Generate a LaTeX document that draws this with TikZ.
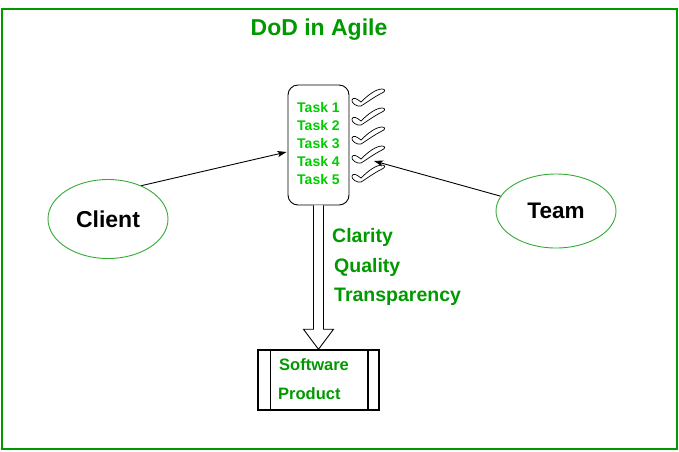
\documentclass[tikz,border=0pt]{standalone}
\usepackage{fontspec}
\setmainfont{Liberation Sans}
\usetikzlibrary{shapes.geometric,arrows.meta,calc}
\definecolor{dg}{HTML}{009900}
\definecolor{lg}{HTML}{00CC00}
\definecolor{eg}{HTML}{33AA33}
\tikzset{
  lbl/.style={inner sep=0pt, font=\bfseries\fontsize{#1}{#1}\selectfont},
  arr/.style={line width=0.9pt, -{Stealth[length=9pt,width=6pt,inset=2pt]}},
  chk/.pic={
    \draw[line width=0.7pt, fill=white] (-8,-6) .. controls (-7,-9) and (-4,-8) .. (1,-4)
      .. controls (8,-11) and (16,-17) .. (22,-17)
      .. controls (26,-17) and (25,-14) .. (22,-13)
      .. controls (14,-9) and (6,-3) .. (1,0)
      .. controls (-3,1) and (-9,-3) .. (-8,-6) -- cycle;
    \coordinate (-tip) at (14,-2);
  }
}
\begin{document}
\begin{tikzpicture}[x=1pt,y=-1pt]
\useasboundingbox (0,0) rectangle (679,451);
\node[draw=dg, line width=2pt, minimum width=675pt, minimum height=440pt, inner sep=0pt] (frame) at (339.5,229) {};
\node[lbl=23, text=dg] (title) at (319,30) {DoD in Agile};

\node[draw, line width=0.9pt, rounded corners=10pt, minimum width=61pt, minimum height=120pt, fill=white] (tb) at (318.5,145) {};
\foreach \i in {1,...,5} {
  \node[lbl=14, text=lg] (t\i) at (318.5,{107+18*(\i-1)}) {Task \i};
  \pic (c\i) at (360,{106+19*(\i-1)}) {chk};
}

\node[ellipse, draw=eg, line width=0.9pt, minimum width=120pt, minimum height=79pt, inner sep=0pt, font=\bfseries\fontsize{23}{23}\selectfont] (client) at (108,219) {Client};
\node[ellipse, draw=eg, line width=0.9pt, minimum width=120pt, minimum height=74pt, inner sep=0pt, font=\bfseries\fontsize{22.5}{22.5}\selectfont] (team) at (556,211) {Team};

\coordinate (tbin) at ($(tb.west)+(-1,7)$);
\draw[arr] (client.45) -- (tbin);
\draw[arr] (team.165) -- (c4-tip);

\node[draw, line width=1.5pt, minimum width=121pt, minimum height=60pt, inner sep=0pt] (sp) at (318.5,380) {};
\draw[line width=1.5pt] ($(sp.north west)+(13,0)$) -- ($(sp.south west)+(13,0)$);
\draw[line width=1.5pt] ($(sp.north east)+(-12,0)$) -- ($(sp.south east)+(-12,0)$);

\draw[line width=0.9pt, fill=white] ($(tb.south)+(-5,0)$) -- ($(sp.north)+(-5,-20)$) -- ($(sp.north)+(-15,-20)$) -- (sp.north)
  -- ($(sp.north)+(15,-20)$) -- ($(sp.north)+(5,-20)$) -- ($(tb.south)+(5,0)$);

\node[lbl=16.5, text=dg, anchor=west] (sw) at (279,365) {Software};
\node[lbl=16.5, text=dg, anchor=west] (pr) at (278,394) {Product};

\node[lbl=19.5, text=dg, anchor=west] (cl) at (332,237) {Clarity};
\node[lbl=19.5, text=dg, anchor=west] (qu) at (334,267) {Quality};
\node[lbl=19.5, text=dg, anchor=west] (tr) at (334,297) {Transparency};
\end{tikzpicture}
\end{document}
